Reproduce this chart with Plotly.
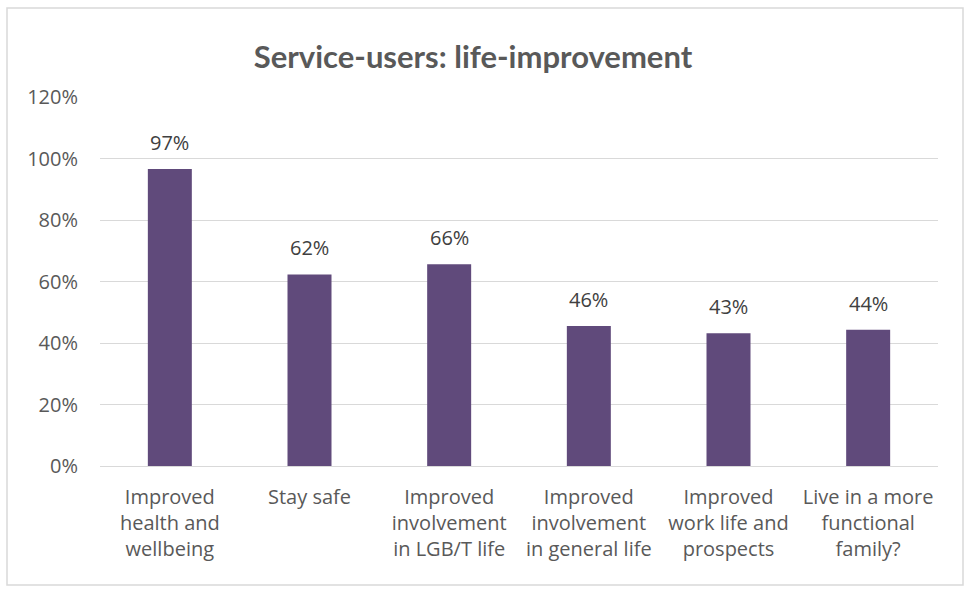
import plotly.graph_objects as go

categories = [
    "Improved<br>health and<br>wellbeing",
    "Stay safe",
    "Improved<br>involvement<br>in LGB/T life",
    "Improved<br>involvement<br>in general life",
    "Improved<br>work life and<br>prospects",
    "Live in a more<br>functional<br>family?",
]
values = [0.966, 0.623, 0.656, 0.455, 0.432, 0.443]
tick_vals = [0, 0.2, 0.4, 0.6, 0.8, 1.0, 1.2]
tick_text = ["0%", "20%", "40%", "60%", "80%", "100%", "120%"]
value_labels = [f"{v:.0%}" for v in values]

W, H = 969, 592
L, R, T, B = 100, 31, 97, 126
pw, ph = W - L - R, H - T - B

fig = go.Figure()
fig.add_trace(go.Bar(
    x=categories, y=values,
    marker=dict(color="#604a7b", line=dict(width=0)),
    hoverinfo="x+y",
))

annotations = [
    dict(x=c, y=v, text=t, xref="x", yref="y", showarrow=False,
         yanchor="bottom", yshift=11,
         font=dict(family="Open Sans", size=20, color="#404040"))
    for c, v, t in zip(categories, values, value_labels)
]

fig.update_layout(
    width=W, height=H,
    margin=dict(l=L, r=R, t=T, b=B),
    paper_bgcolor="white", plot_bgcolor="white",
    bargap=0.685,
    showlegend=False,
    annotations=annotations,
    title=dict(text="<b>Service-users: life-improvement</b>",
               x=473 / W, xanchor="center", xref="container",
               y=1 - 57 / H, yanchor="middle", yref="container",
               font=dict(family="Lato, Open Sans", size=31, color="#595959")),
    font=dict(family="Open Sans", size=20, color="#595959"),
    yaxis=dict(range=[0, 1.2], tickvals=tick_vals, ticktext=tick_text,
               showgrid=True, gridcolor="#d9d9d9", gridwidth=1.3,
               zeroline=True, zerolinecolor="#d9d9d9", zerolinewidth=1.3,
               showline=False, ticks="", ticklen=0, ticklabelstandoff=21,
               tickfont=dict(family="Open Sans", size=20, color="#595959")),
    xaxis=dict(showgrid=False, showline=False, ticks="", ticklabelstandoff=17,
               tickfont=dict(family="Open Sans", size=20, color="#595959")),
    shapes=[dict(type="rect", xref="paper", yref="paper",
                 x0=(7 - L) / pw, x1=(963 - L) / pw,
                 y0=(H - B - 585) / ph, y1=(H - B - 8) / ph,
                 line=dict(color="#d9d9d9", width=1.5), fillcolor="rgba(0,0,0,0)",
                 layer="below")],
)

fig.write_html("out.html", config={"displayModeBar": False},
               post_script="document.body.style.margin='0';")
